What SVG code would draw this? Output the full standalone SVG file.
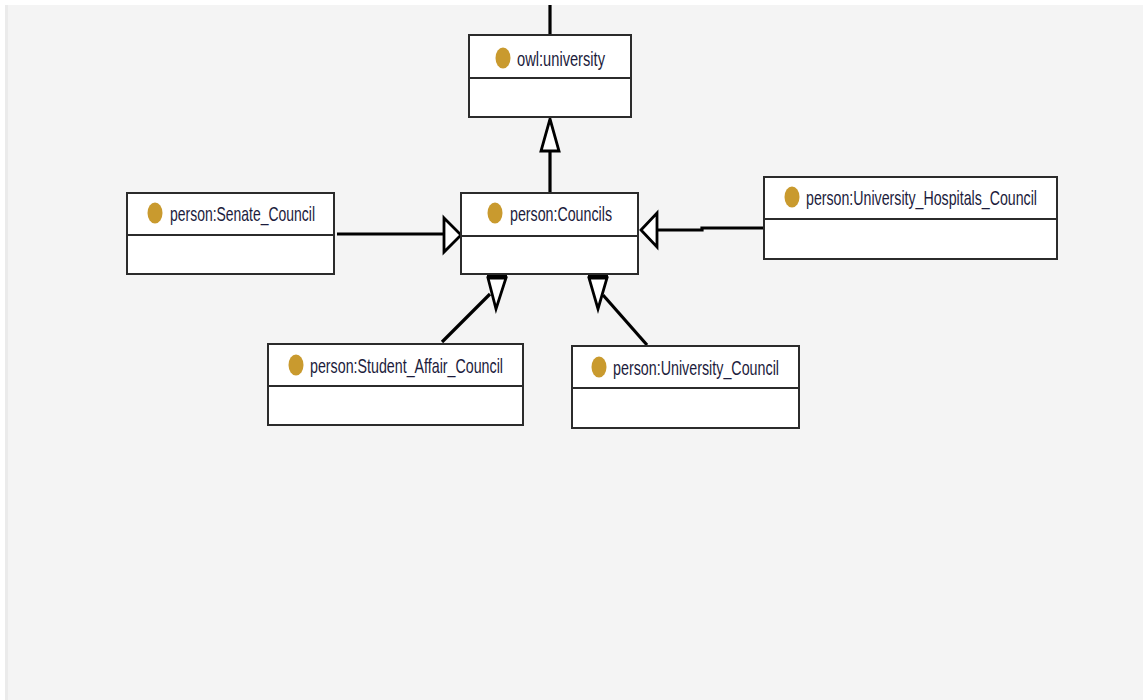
<svg xmlns="http://www.w3.org/2000/svg" width="1143" height="700" viewBox="0 0 1143 700">
  <defs>
    <style>
      .box { fill: #ffffff; stroke: #2b2b2b; stroke-width: 2; }
      .div { stroke: #2b2b2b; stroke-width: 2; }
      .dot { fill: #c99a2e; }
      .lbl { font-family: "Liberation Sans", Arial, sans-serif; font-size: 21px; fill: #1c1c3c; }
      .edge { fill: none; stroke: #000000; stroke-width: 3.2; }
      .head { fill: #ffffff; stroke: #000000; stroke-width: 2.8; stroke-linejoin: miter; }
    </style>
  </defs>

  <!-- canvas -->
  <rect x="0" y="0" width="1143" height="700" fill="#ffffff"/>
  <rect x="5" y="5" width="1138" height="695" fill="#f4f4f4"/>
  <rect x="5" y="5" width="3" height="695" fill="#ebebeb"/>

  <!-- connectors -->
  <g id="connectors">
    <line class="edge" x1="550" y1="5" x2="550" y2="35"/>
    <!-- Councils -> university -->
    <line class="edge" x1="550" y1="193" x2="550" y2="151"/>
    <polygon class="head" points="550,119 559,151 541,151"/>
    <!-- Senate -> Councils -->
    <line class="edge" x1="337" y1="234" x2="444" y2="234"/>
    <polygon class="head" points="444,218 461,235 444,252"/>
    <!-- Hospitals -> Councils -->
    <polyline class="edge" points="764,228 702,228 702,230 657,230"/>
    <polygon class="head" points="641,230 657,213 657,247"/>
    <!-- Student Affair -> Councils -->
    <line class="edge" x1="442" y1="342" x2="490" y2="294"/>
    <rect x="487" y="275" width="20" height="3" fill="#000"/>
    <polygon class="head" points="488,278 506,278 496,309"/>
    <!-- University Council -> Councils -->
    <line class="edge" x1="647" y1="345" x2="603" y2="295"/>
    <rect x="588" y="275" width="20" height="3" fill="#000"/>
    <polygon class="head" points="589,278 607,278 598,309"/>
  </g>

  <g id="owl-university">
    <rect class="box" x="469" y="35" width="162" height="82"/>
    <line class="div" x1="469" y1="78" x2="631" y2="78"/>
    <ellipse class="dot" cx="503" cy="58" rx="7.5" ry="10.5"/>
    <text class="lbl" x="517" y="66" textLength="88" lengthAdjust="spacingAndGlyphs">owl:university</text>
  </g>

  <g id="person-councils">
    <rect class="box" x="461" y="193" width="177" height="81"/>
    <line class="div" x1="461" y1="236" x2="638" y2="236"/>
    <ellipse class="dot" cx="495" cy="213" rx="7.5" ry="10.5"/>
    <text class="lbl" x="510" y="221" textLength="102" lengthAdjust="spacingAndGlyphs">person:Councils</text>
  </g>

  <g id="person-senate-council">
    <rect class="box" x="127" y="193" width="207" height="81"/>
    <line class="div" x1="127" y1="235" x2="334" y2="235"/>
    <ellipse class="dot" cx="155" cy="213" rx="7.5" ry="10.5"/>
    <text class="lbl" x="170" y="221" textLength="145" lengthAdjust="spacingAndGlyphs">person:Senate_Council</text>
  </g>

  <g id="person-university-hospitals-council">
    <rect class="box" x="764" y="177" width="293" height="82"/>
    <line class="div" x1="764" y1="219" x2="1057" y2="219"/>
    <ellipse class="dot" cx="792" cy="197" rx="7.5" ry="10.5"/>
    <text class="lbl" x="806" y="205" textLength="231" lengthAdjust="spacingAndGlyphs">person:University_Hospitals_Council</text>
  </g>

  <g id="person-student-affair-council">
    <rect class="box" x="268" y="344" width="255" height="81"/>
    <line class="div" x1="268" y1="386" x2="523" y2="386"/>
    <ellipse class="dot" cx="296" cy="365" rx="7.5" ry="10.5"/>
    <text class="lbl" x="310" y="373" textLength="193" lengthAdjust="spacingAndGlyphs">person:Student_Affair_Council</text>
  </g>

  <g id="person-university-council">
    <rect class="box" x="572" y="346" width="227" height="82"/>
    <line class="div" x1="572" y1="388" x2="799" y2="388"/>
    <ellipse class="dot" cx="599" cy="367" rx="7.5" ry="10.5"/>
    <text class="lbl" x="613" y="375" textLength="166" lengthAdjust="spacingAndGlyphs">person:University_Council</text>
  </g>
</svg>
